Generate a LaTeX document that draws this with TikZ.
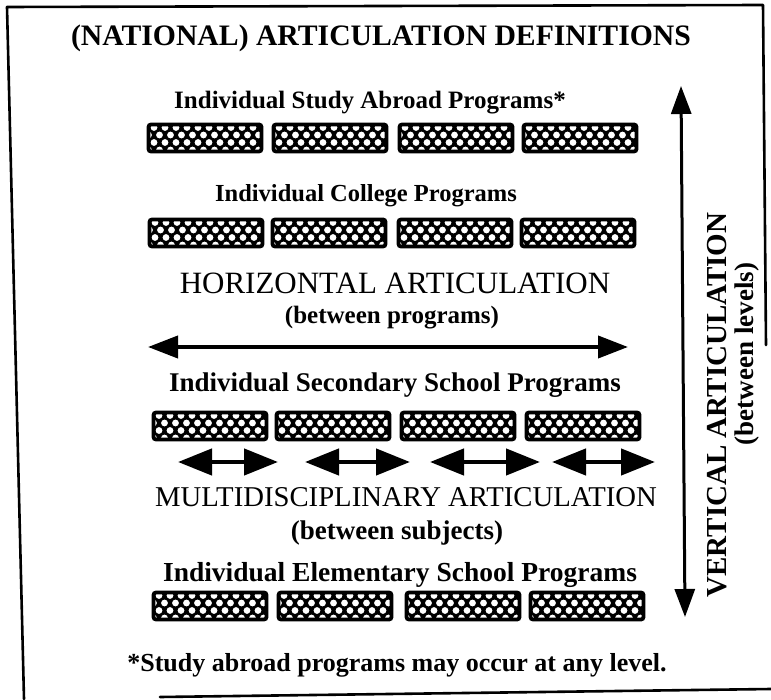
\documentclass[tikz,border=0pt]{standalone}
\usepackage{fontspec}
\setmainfont{Liberation Serif}
\usetikzlibrary{arrows.meta}
\begin{document}
\begin{tikzpicture}[x=1pt,y=-1pt,
  frameline/.style={line width=2.6pt, line cap=round, line join=round},
  progbox/.style={draw=black, fill=black, line width=3.8pt, rounded corners=2.5pt,
    minimum width=113pt, minimum height=27pt, inner sep=0pt,
    path picture={
      \foreach \i in {0,...,11}{
        \foreach \j in {0,1,2,3}{
          \fill[white] ([xshift={\i*11pt+mod(\j,2)*5.5pt}, yshift={1.5pt+\j*7.5pt}]path picture bounding box.south west) circle (3.4pt);
        }
      }
    }},
  bigtxt/.style={inner sep=0pt, font=\fontsize{31pt}{33pt}\selectfont},
  headtxt/.style={inner sep=0pt, font=\fontsize{25pt}{27pt}\selectfont\bfseries},
  dbl/.style={line width=4pt, {Triangle[length=30pt,width=22pt]}-{Triangle[length=30pt,width=22pt]}},
  smalldbl/.style={line width=4.5pt, {Triangle[length=34pt,width=26pt]}-{Triangle[length=34pt,width=26pt]}},
  vdbl/.style={line width=3pt, {Triangle[length=28pt,width=20pt]}-{Triangle[length=28pt,width=20pt]}}
]
\useasboundingbox (0,0) rectangle (771,700);

% frame (scanned, slightly skewed, partly missing)
\coordinate (ftl) at (7,7);
\coordinate (ftr) at (763,5);
\coordinate (frb) at (766,345);
\coordinate (fbl) at (24,699);
\coordinate (fb1) at (160,697);
\coordinate (fb2) at (771,689);
\draw[frameline] (fbl) -- (ftl) -- (ftr) -- (frb);
\draw[frameline] (fb1) -- (fb2);

% title
\node[inner sep=0pt, font=\fontsize{29.7pt}{31pt}\selectfont\bfseries] (title) at (381,38) {(NATIONAL) ARTICULATION DEFINITIONS};

% level 1
\node[headtxt] (abroad) at (370,103) {Individual Study Abroad Programs*};
\node[progbox] (a1) at (205,138) {};
\node[progbox] (a2) at (330,138) {};
\node[progbox] (a3) at (456,138) {};
\node[progbox] (a4) at (580,138) {};

% level 2
\node[headtxt, font=\fontsize{24.5pt}{26pt}\selectfont\bfseries] (college) at (366,196) {Individual College Programs};
\node[progbox] (c1) at (206,233) {};
\node[progbox] (c2) at (329,233) {};
\node[progbox] (c3) at (455,233) {};
\node[progbox] (c4) at (578,233) {};

% horizontal articulation
\node[bigtxt] (horiz) at (395,283) {HORIZONTAL ARTICULATION};
\node[headtxt] (horizsub) at (392,318) {(between programs)};
\coordinate (hl) at (148,347);
\coordinate (hr) at (628,347);
\draw[dbl] (hl) -- (hr);

% level 3
\node[headtxt, font=\fontsize{27pt}{29pt}\selectfont\bfseries] (second) at (395,385) {Individual Secondary School Programs};
\node[progbox] (s1) at (210,426) {};
\node[progbox] (s2) at (333,426) {};
\node[progbox] (s3) at (458,426) {};
\node[progbox] (s4) at (583,426) {};

% small arrows
\coordinate (m1l) at (178,462); \coordinate (m1r) at (278,462);
\coordinate (m2l) at (305,462); \coordinate (m2r) at (410,462);
\coordinate (m3l) at (430,462); \coordinate (m3r) at (540,462);
\coordinate (m4l) at (552,462); \coordinate (m4r) at (655,462);
\draw[smalldbl] (m1l) -- (m1r);
\draw[smalldbl] (m2l) -- (m2r);
\draw[smalldbl] (m3l) -- (m3r);
\draw[smalldbl] (m4l) -- (m4r);

% multidisciplinary
\node[bigtxt, font=\fontsize{28.7pt}{30pt}\selectfont] (multi) at (406,497) {MULTIDISCIPLINARY ARTICULATION};
\node[headtxt, font=\fontsize{27pt}{29pt}\selectfont\bfseries] (multisub) at (397,533) {(between subjects)};

% level 4
\node[headtxt, font=\fontsize{27.5pt}{29pt}\selectfont\bfseries] (elem) at (400,575) {Individual Elementary School Programs};
\node[progbox] (e1) at (210,606) {};
\node[progbox] (e2) at (335,606) {};
\node[progbox] (e3) at (463,606) {};
\node[progbox] (e4) at (587,606) {};

% footnote
\node[headtxt, font=\fontsize{26pt}{28pt}\selectfont\bfseries] (foot) at (397,665) {*Study abroad programs may occur at any level.};

% vertical articulation
\coordinate (vt) at (681,86);
\coordinate (vb) at (685,617);
\draw[vdbl] (vt) -- (vb);
\node[inner sep=0pt, rotate=90, font=\fontsize{29pt}{31pt}\selectfont\bfseries] (vert) at (717,405) {VERTICAL ARTICULATION};
\node[inner sep=0pt, rotate=90, font=\fontsize{27pt}{29pt}\selectfont\bfseries] (vertsub) at (747,354) {(between levels)};
\end{tikzpicture}
\end{document}
